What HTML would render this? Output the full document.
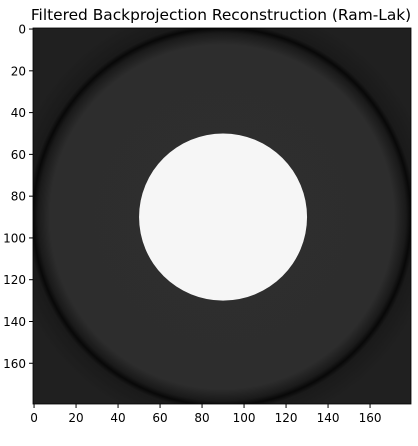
<!DOCTYPE html>
<html><head><meta charset="utf-8"><style>
body{margin:0;background:#fff;width:418px;height:441px;overflow:hidden}
svg{font-family:"DejaVu Sans","Liberation Sans",sans-serif}
</style></head><body>
<svg width="418" height="441">
<defs>
<radialGradient id="rg" gradientUnits="userSpaceOnUse" cx="222" cy="217" r="215">
<stop offset="0" stop-color="#2e2e2e"/>
<stop offset="0.8" stop-color="#2d2d2d"/>
<stop offset="0.855" stop-color="#1a1a1a"/>
<stop offset="0.878" stop-color="#080808"/>
<stop offset="0.9" stop-color="#1a1a1a"/>
<stop offset="1" stop-color="#202020"/>
</radialGradient>
<clipPath id="cp"><rect x="33" y="28" width="378" height="376"/></clipPath>
</defs>
<text x="221" y="20" text-anchor="middle" font-size="15.4" fill="#000">Filtered Backprojection Reconstruction (Ram-Lak)</text>
<g clip-path="url(#cp)">
<rect x="33" y="28" width="378" height="376" fill="url(#rg)"/>
<g id="marks"></g>
</g>
<rect x="33" y="28" width="378" height="376" fill="none" stroke="#000" stroke-width="0.8"/>
<g id="ticks"></g>
</svg>
<script>
const xTicks=[0,20,40,60,80,100,120,140,160];
const yTicks=[0,20,40,60,80,100,120,140,160];
const discCenter=[90,90];
const discRadius=[40];
const L=33,T=28,W=378,H=376,N=180;
const sx=v=>L+(v+0.5)*W/N, sy=v=>T+(v+0.5)*H/N;
const ns="http://www.w3.org/2000/svg";
const marks=document.getElementById('marks');
const c=document.createElementNS(ns,'ellipse');
c.setAttribute('cx',sx(discCenter[0]));c.setAttribute('cy',sy(discCenter[1]));
c.setAttribute('rx',discRadius[0]*W/N);c.setAttribute('ry',discRadius[0]*H/N);
c.setAttribute('fill','#f6f6f6');


marks.appendChild(c);
const tg=document.getElementById('ticks');
xTicks.forEach(v=>{
 const x=sx(v);
 const l=document.createElementNS(ns,'line');
 l.setAttribute('x1',x);l.setAttribute('x2',x);l.setAttribute('y1',T+H);l.setAttribute('y2',T+H+4);l.setAttribute('stroke','#000');
 
 
 tg.appendChild(l);
 const t=document.createElementNS(ns,'text');
 t.setAttribute('x',x);t.setAttribute('y',T+H+18);t.setAttribute('text-anchor','middle');t.setAttribute('font-size','12');
 t.textContent=v;
 
 
 tg.appendChild(t);
});
yTicks.forEach(v=>{
 const y=sy(v);
 const l=document.createElementNS(ns,'line');
 l.setAttribute('x1',L-4);l.setAttribute('x2',L);l.setAttribute('y1',y);l.setAttribute('y2',y);l.setAttribute('stroke','#000');
 
 
 tg.appendChild(l);
 const t=document.createElementNS(ns,'text');
 t.setAttribute('x',L-7);t.setAttribute('y',y+4.5);t.setAttribute('text-anchor','end');t.setAttribute('font-size','12');
 t.textContent=v;
 
 
 tg.appendChild(t);
});
</script>
</body></html>
